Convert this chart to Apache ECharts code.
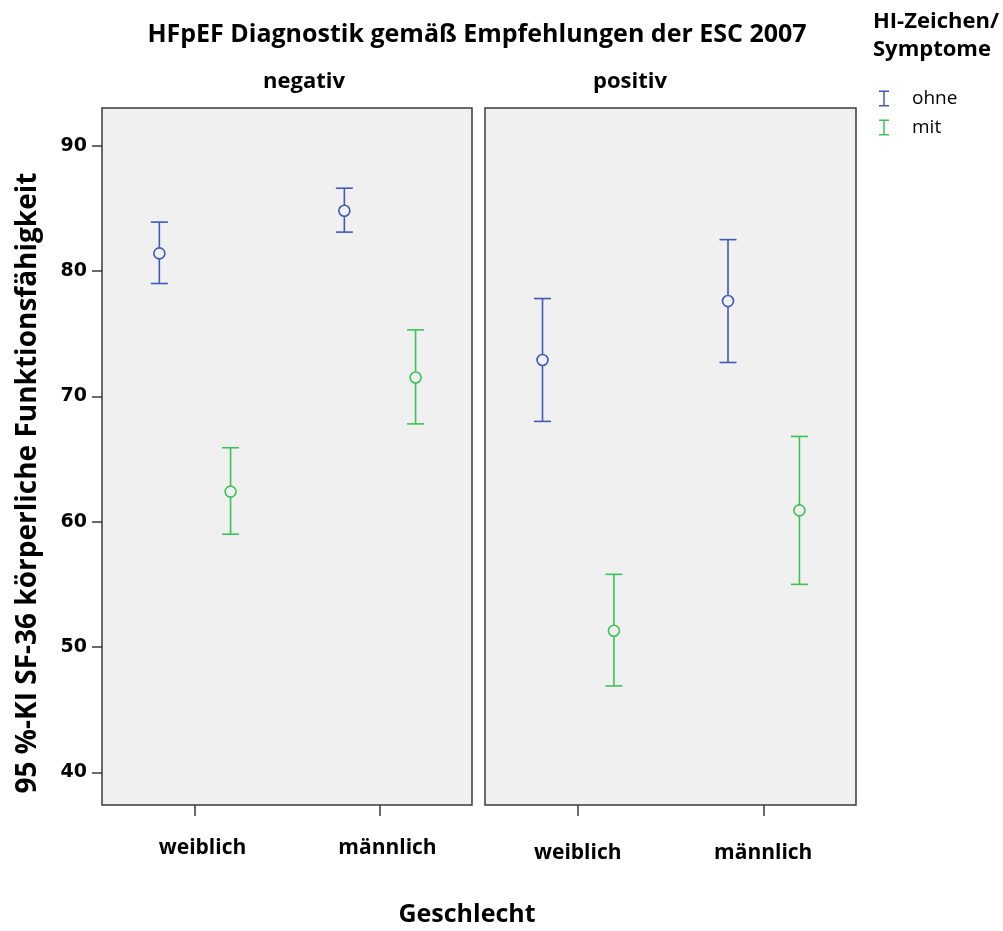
<!DOCTYPE html>
<html>
<head>
<meta charset="utf-8">
<script src="https://cdn.jsdelivr.net/npm/echarts@6/dist/echarts.min.js"></script>
<style>html,body{margin:0;padding:0;background:#fff}#c{width:1003px;height:931px}</style>
</head>
<body>
<div id="c"></div>
<script>
// ---- data ----
const panels = ['negativ', 'positiv'];
const categories = ['weiblich', 'männlich'];
const groups = ['ohne', 'mit'];
const yTicks = [40, 50, 60, 70, 80, 90];
// values per panel: [weiblich, männlich]
const ohneMeanNeg = [81.4, 84.8];
const ohneLowNeg  = [79.0, 83.1];
const ohneHighNeg = [83.9, 86.6];
const mitMeanNeg  = [62.4, 71.5];
const mitLowNeg   = [59.0, 67.8];
const mitHighNeg  = [65.9, 75.3];
const ohneMeanPos = [72.9, 77.6];
const ohneLowPos  = [68.0, 72.7];
const ohneHighPos = [77.8, 82.5];
const mitMeanPos  = [51.3, 60.9];
const mitLowPos   = [46.9, 55.0];
const mitHighPos  = [55.8, 66.8];

const colors = { ohne: '#4259b6', mit: '#3dc257' };
const offsets = { ohne: -0.19, mit: 0.195 };
const FONT = '"Open Sans", "Noto Sans", sans-serif';

function build(mean, low, high) {
  return categories.map((c, i) => [i, low[i], high[i], mean[i]]);
}

function makeRender(group) {
  return function (params, api) {
    const xi = api.value(0);
    const lo = api.value(1), hi = api.value(2), m = api.value(3);
    const band = api.size([1, 0])[0];
    const pM = api.coord([xi, m]);
    const pL = api.coord([xi, lo]);
    const pH = api.coord([xi, hi]);
    const x = pM[0] + offsets[group] * band;
    const col = colors[group];
    const st = { stroke: col, lineWidth: 1.6 };
    const cap = 8.5;
    return {
      type: 'group',
      children: [
        { type: 'line', shape: { x1: x, y1: pL[1], x2: x, y2: pH[1] }, style: st },
        { type: 'line', shape: { x1: x - cap, y1: pH[1], x2: x + cap, y2: pH[1] }, style: st },
        { type: 'line', shape: { x1: x - cap, y1: pL[1], x2: x + cap, y2: pL[1] }, style: st },
        { type: 'circle', shape: { cx: x, cy: pM[1], r: 5.5 }, style: { stroke: col, lineWidth: 1.6, fill: '#f0f0f0' } }
      ]
    };
  };
}

const seriesData = [
  { group: 'ohne', panel: 0, data: build(ohneMeanNeg, ohneLowNeg, ohneHighNeg) },
  { group: 'mit',  panel: 0, data: build(mitMeanNeg, mitLowNeg, mitHighNeg) },
  { group: 'ohne', panel: 1, data: build(ohneMeanPos, ohneLowPos, ohneHighPos) },
  { group: 'mit',  panel: 1, data: build(mitMeanPos, mitLowPos, mitHighPos) }
];

const gridTop = 108, gridH = 697;
const grids = [
  { left: 102, top: gridTop, width: 370, height: gridH },
  { left: 485, top: gridTop, width: 371, height: gridH }
].map(g => Object.assign(g, { show: true, backgroundColor: '#f0f0f0', borderColor: '#3a3a3a', borderWidth: 1.5, containLabel: false, outerBoundsMode: 'none' }));

const labelMargins = [33, 38];
const labelPads = [[0, 0, 0, 16], [0, 0, 0, 0]];
const xAxes = panels.map((p, i) => ({
  type: 'category', gridIndex: i, data: categories, boundaryGap: true,
  axisLine: { show: false },
  axisTick: { show: true, alignWithLabel: true, length: 11, lineStyle: { color: '#3a3a3a', width: 1.5 } },
  axisLabel: { margin: labelMargins[i], padding: labelPads[i], color: '#000', fontFamily: FONT, fontWeight: 'bold', fontSize: 21 },
  splitLine: { show: false }
}));

const yAxes = panels.map((p, i) => ({
  type: 'value', gridIndex: i, min: 37.4, max: 93.0,
  axisLine: { show: false },
  axisTick: { show: i === 0, customValues: yTicks, length: 10, lineStyle: { color: '#3a3a3a', width: 1.5 } },
  axisLabel: { show: i === 0, customValues: yTicks, margin: 15, color: '#000', fontFamily: '"DejaVu Sans", sans-serif', fontWeight: 'bold', fontSize: 19 },
  splitLine: { show: false }
}));

const series = seriesData.map(s => ({
  type: 'custom', name: s.group, xAxisIndex: s.panel, yAxisIndex: s.panel,
  renderItem: makeRender(s.group), data: s.data,
  itemStyle: { color: colors[s.group] },
  encode: { x: 0, y: [1, 2, 3] }
}));

const iconPath = 'path://M0,0H10V1.5H0Z M4.25,0H5.75V16H4.25Z M0,14.5H10V16H0Z';

const option = {
  animation: false,
  backgroundColor: '#ffffff',
  grid: grids,
  xAxis: xAxes,
  yAxis: yAxes,
  series: series,
  legend: {
    orient: 'vertical', left: 874, top: 84,
    itemWidth: 10, itemHeight: 16, itemGap: 10,
    data: groups.map(g => ({ name: g, icon: iconPath, itemStyle: { color: colors[g] } })),
    textStyle: { color: '#000', fontFamily: FONT, fontSize: 19, padding: [0, 0, 0, 18] },
    selectedMode: false
  },
  graphic: [
    { type: 'text', x: 477, y: 35, style: { text: 'HFpEF Diagnostik gemäß Empfehlungen der ESC 2007', font: 'bold 25px ' + FONT, fill: '#000', align: 'center', verticalAlign: 'middle' } },
    { type: 'text', x: 304, y: 82, style: { text: panels[0], font: 'bold 22px ' + FONT, fill: '#000', align: 'center', verticalAlign: 'middle' } },
    { type: 'text', x: 630, y: 82, style: { text: panels[1], font: 'bold 22px ' + FONT, fill: '#000', align: 'center', verticalAlign: 'middle' } },
    { type: 'text', x: 873, y: 22, style: { text: 'HI-Zeichen/', font: 'bold 22px ' + FONT, fill: '#000', align: 'left', verticalAlign: 'middle' } },
    { type: 'text', x: 873, y: 50, style: { text: 'Symptome', font: 'bold 22px ' + FONT, fill: '#000', align: 'left', verticalAlign: 'middle' } },
    { type: 'text', x: 467, y: 915, style: { text: 'Geschlecht', font: 'bold 25px ' + FONT, fill: '#000', align: 'center', verticalAlign: 'middle' } },
    { type: 'text', x: 28, y: 483, rotation: Math.PI / 2, style: { text: '95 %-KI SF-36 körperliche Funktionsfähigkeit', font: 'bold 28px ' + FONT, fill: '#000', align: 'center', verticalAlign: 'middle' } }
  ]
};

const chart = echarts.init(document.getElementById('c'), null, { renderer: 'canvas' });
chart.setOption(option);
</script>
</body>
</html>
